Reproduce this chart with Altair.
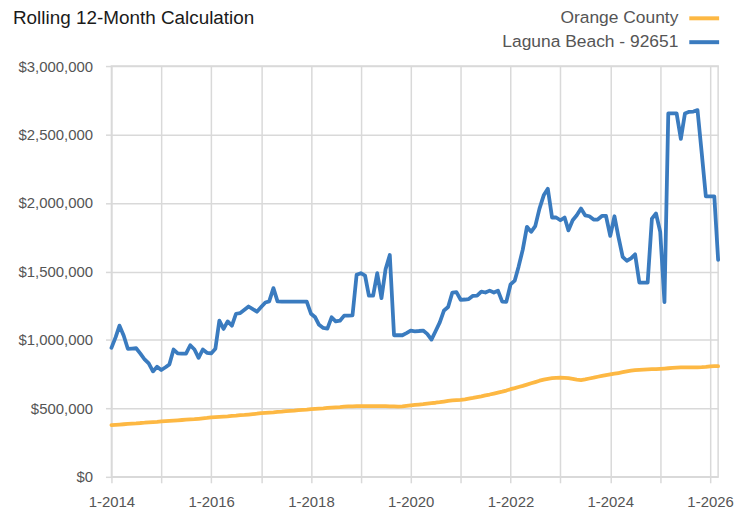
import altair as alt
import pandas as pd

# ---- data (values in thousands of dollars), monthly Jan-2014 .. Mar-2026 ----
start_month = "2014-01-01"
n_months = 147

laguna_k = [
    942, 1020, 1104, 1030, 935, 937, 939, 900, 857, 828, 770, 804,          # 2014
    780, 800, 821, 930, 901, 899, 900, 961, 930, 869, 930, 906,             # 2015
    901, 935, 1140, 1080, 1135, 1104, 1191, 1196, 1220, 1244, 1225, 1206,   # 2016
    1240, 1273, 1281, 1378, 1281, 1280, 1280, 1280, 1280, 1280, 1280, 1280, # 2017
    1191, 1165, 1110, 1087, 1082, 1165, 1135, 1140, 1177, 1178, 1179, 1475, # 2018
    1487, 1470, 1324, 1324, 1487, 1305, 1516, 1620, 1034, 1034, 1034, 1050, # 2019
    1068, 1063, 1065, 1068, 1044, 1002, 1063, 1128, 1215, 1240, 1346, 1349, # 2020
    1293, 1295, 1298, 1322, 1324, 1353, 1346, 1360, 1346, 1360, 1280, 1278, # 2021
    1405, 1433, 1535, 1661, 1826, 1789, 1831, 1959, 2056, 2104, 1894, 1894, # 2022
    1874, 1894, 1800, 1874, 1910, 1959, 1910, 1903, 1879, 1879, 1905, 1905, # 2023
    1760, 1903, 1753, 1607, 1578, 1596, 1625, 1419, 1419, 1419, 1886, 1923, # 2024
    1789, 1276, 2654, 2654, 2654, 2468, 2654, 2666, 2668, 2678, 2363, 2048, # 2025
    2048, 2048, 1584,                                                       # 2026
]

orange_k = [
    378, 380, 382, 384, 386, 388, 390, 393, 395, 398, 400, 402,   # 2014
    405, 407, 409, 411, 413, 415, 417, 419, 421, 424, 427, 430,   # 2015
    434, 436, 438, 440, 442, 445, 447, 450, 452, 455, 458, 461,   # 2016
    465, 467, 469, 471, 474, 476, 479, 482, 484, 487, 489, 491,   # 2017
    494, 496, 498, 500, 503, 505, 507, 509, 512, 514, 515, 516,   # 2018
    517, 517, 517, 517, 517, 516, 516, 515, 514, 513, 514, 518,   # 2019
    522, 525, 528, 531, 535, 538, 541, 545, 550, 555, 558, 560,   # 2020
    562, 566, 571, 576, 582, 588, 595, 601, 608, 615, 622, 630,   # 2021
    640, 648, 656, 664, 673, 683, 692, 702, 710, 716, 720, 722,   # 2022
    724, 723, 721, 716, 710, 707, 712, 718, 724, 731, 737, 743,   # 2023
    748, 753, 758, 764, 770, 775, 779, 781, 783, 785, 786, 787,   # 2024
    789, 791, 793, 795, 797, 799, 800, 800, 800, 800, 801, 803,   # 2025
    806, 808, 808,                                                # 2026
]

series_names = ["Orange County", "Laguna Beach - 92651"]
series_colors = ["#FDB843", "#3A7BBF"]
title_text = "Rolling 12-Month Calculation"
y_ticks = [0, 500000, 1000000, 1500000, 2000000, 2500000, 3000000]
x_tick_years = list(range(2014, 2027))

# ---- table ----
months = pd.date_range(start_month, periods=n_months, freq="MS")
df = pd.concat([
    pd.DataFrame({"date": months, "value": [v * 1000 for v in orange_k], "series": series_names[0]}),
    pd.DataFrame({"date": months, "value": [v * 1000 for v in laguna_k], "series": series_names[1]}),
], ignore_index=True)

FONT = "Liberation Sans"
GRID = "#d9d9d9"
LABEL = "#555555"

lines = alt.Chart(df).mark_line(strokeWidth=3.8, strokeJoin="round", strokeCap="round").encode(
    x=alt.X(
        "date:T",
        scale=alt.Scale(domain=[alt.DateTime(year=2014, month=1, date=1),
                                alt.DateTime(year=2026, month=3, date=1)]),
        axis=alt.Axis(
            values=[alt.DateTime(year=y, month=1, date=1) for y in x_tick_years],
            labelExpr="year(datum.value) % 2 == 0 ? '1-' + year(datum.value) : ''",
            labelOverlap=False, labelAlign="center", labelBound=False,
            grid=True, gridColor=GRID, gridWidth=1.5,
            ticks=True, tickColor=GRID, tickWidth=1.5, tickSize=6,
            domain=False,
            labelFont=FONT, labelFontSize=15, labelColor=LABEL, labelPadding=12,
            title=None,
        ),
    ),
    y=alt.Y(
        "value:Q",
        scale=alt.Scale(domain=[0, 3000000], nice=False),
        axis=alt.Axis(
            values=y_ticks, format="$,.0f",
            grid=True, gridColor=GRID, gridWidth=1.5,
            ticks=True, tickColor=GRID, tickWidth=1.5, tickSize=6,
            domain=False,
            labelFont=FONT, labelFontSize=15, labelColor=LABEL, labelPadding=13,
            title=None,
        ),
    ),
    color=alt.Color("series:N", scale=alt.Scale(domain=series_names, range=series_colors), legend=None),
    detail="series:N",
)

title_mark = alt.Chart(pd.DataFrame({"t": [title_text]})).mark_text(
    align="left", baseline="alphabetic", font=FONT, fontSize=19, color="#1a1a1a"
).encode(x=alt.value(-99), y=alt.value(-42), text="t:N")

leg1_text = alt.Chart(pd.DataFrame({"t": [series_names[0]]})).mark_text(
    align="right", baseline="middle", font=FONT, fontSize=17.5, color=LABEL
).encode(x=alt.value(570), y=alt.value(-48), text="t:N")
leg2_text = alt.Chart(pd.DataFrame({"t": [series_names[1]]})).mark_text(
    align="right", baseline="middle", font=FONT, fontSize=17.5, color=LABEL
).encode(x=alt.value(570), y=alt.value(-24), text="t:N")
leg1_rule = alt.Chart(pd.DataFrame({"t": [series_names[0]]})).mark_rule(
    strokeWidth=4, color=series_colors[0]
).encode(x=alt.value(581), x2=alt.value(611), y=alt.value(-48))
leg2_rule = alt.Chart(pd.DataFrame({"t": [series_names[1]]})).mark_rule(
    strokeWidth=4, color=series_colors[1]
).encode(x=alt.value(581), x2=alt.value(611), y=alt.value(-24))

chart = alt.layer(lines, title_mark, leg1_text, leg2_text, leg1_rule, leg2_rule).properties(
    width=610, height=413,
    autosize=alt.AutoSizeParams(type="none"),
    padding={"left": 104, "top": 57, "right": 25, "bottom": 34},
).configure_view(stroke=GRID, strokeWidth=1.5)

chart.save("out.html", embed_options={"renderer": "svg", "actions": False})
